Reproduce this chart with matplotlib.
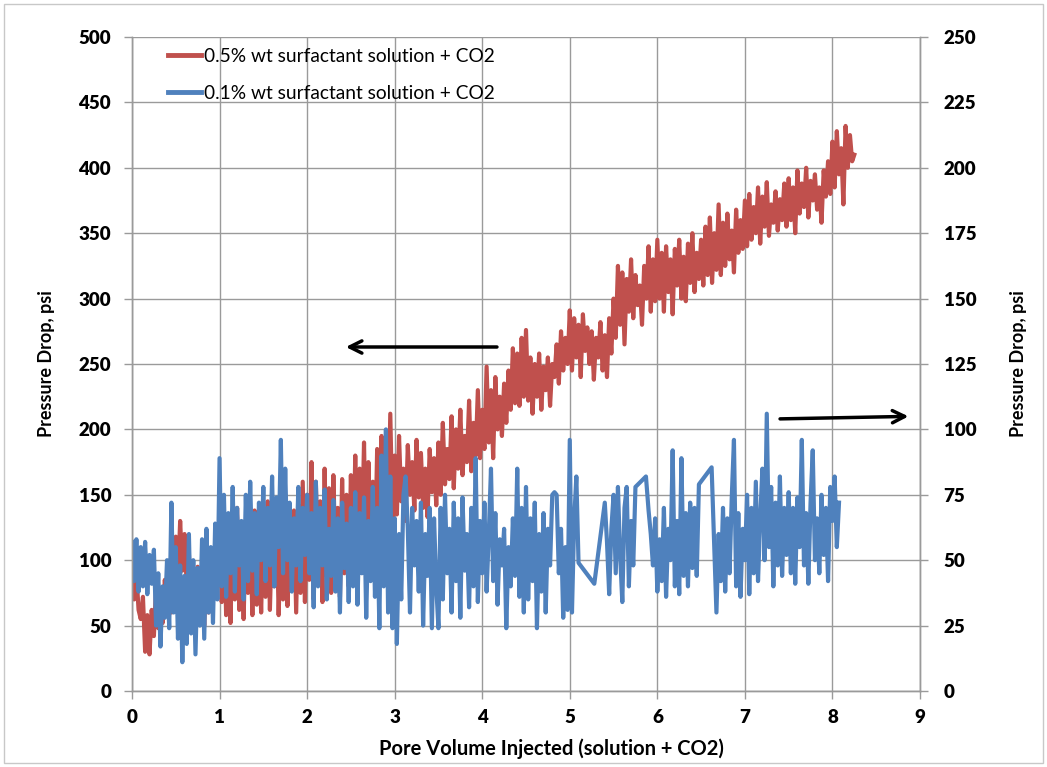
import numpy as np
import matplotlib
matplotlib.use("Agg")
import matplotlib.pyplot as plt
from matplotlib.patches import Rectangle

plt.rcParams['font.family'] = ['Lato', 'DejaVu Sans']

# ---- data -------------------------------------------------------------
x_ticks = [0, 1, 2, 3, 4, 5, 6, 7, 8, 9]
left_ticks = [0, 50, 100, 150, 200, 250, 300, 350, 400, 450, 500]
right_ticks = [0, 25, 50, 75, 100, 125, 150, 175, 200, 225, 250]

label_red = "0.5% wt surfactant solution + CO2"
label_blue = "0.1% wt surfactant solution + CO2"

# 0.5 wt% run: pressure drop (psi, left axis), sampled every 0.025 PV from 0
red_pv_start = 0.0
red_pv_step = 0.025
red_dp = [
    82, 70, 90, 62, 55, 72, 30, 58, 28, 62, 42, 80, 48, 70, 52, 85, 58, 78, 60, 95,
    118, 85, 130, 92, 120, 80, 105, 62, 88, 55, 95, 65, 78, 50, 92, 60, 105, 70, 112, 80,
    120, 68, 135, 58, 110, 52, 125, 70, 140, 62, 118, 55, 130, 75, 122, 58, 138, 66, 115, 60,
    132, 72, 145, 62, 125, 80, 140, 58, 120, 70, 150, 65, 128, 82, 138, 60, 142, 75, 160, 68,
    150, 85, 175, 70, 160, 92, 145, 68, 170, 88, 155, 75, 165, 95, 140, 72, 162, 90, 150, 80,
    165, 95, 180, 85, 170, 110, 190, 92, 175, 120, 160, 100, 185, 115, 195, 105, 178, 125, 212, 130,
    180, 135, 195, 145, 170, 130, 188, 150, 175, 138, 192, 148, 182, 140, 170, 133, 185, 152, 178, 142,
    190, 150, 205, 158, 185, 162, 210, 155, 200, 170, 215, 165, 195, 175, 222, 168, 205, 180, 230, 178,
    215, 185, 248, 190, 230, 178, 240, 200, 225, 195, 235, 205, 245, 215, 262, 220, 258, 218, 270, 225,
    276, 222, 255, 212, 250, 225, 258, 215, 248, 230, 255, 218, 250, 240, 265, 235, 275, 245, 270, 250,
    291, 245, 285, 255, 280, 240, 288, 260, 278, 250, 275, 238, 270, 255, 282, 245, 272, 240, 285, 258,
    300, 270, 325, 280, 320, 265, 315, 290, 330, 285, 318, 295, 310, 280, 325, 300, 340, 290, 330, 298,
    345, 300, 335, 290, 340, 305, 330, 288, 338, 310, 345, 300, 332, 298, 342, 312, 350, 305, 335, 315,
    345, 310, 355, 318, 362, 312, 350, 322, 372, 318, 358, 325, 365, 330, 352, 320, 368, 335, 360, 338,
    375, 340, 380, 345, 370, 350, 385, 342, 378, 355, 389, 348, 372, 358, 382, 352, 376, 360, 388, 355,
    392, 360, 385, 350, 398, 365, 388, 370, 400, 362, 390, 375, 395, 368, 385, 358, 398, 378, 405, 380,
    420, 385, 428, 395, 415, 372, 432, 400, 425, 405, 410,
]

# 0.1 wt% run: pressure drop (psi, right axis), recorded in runs;
# each run starts at the PV in blue_run_starts and is sampled every 0.025 PV
blue_pv_step = 0.025
blue_run_starts = [0.0, 5.28, 5.40, 5.87, 5.90, 6.62, 6.675]
blue_run_1 = [
    57, 42, 58, 38, 55, 40, 57, 37, 52, 41, 54, 25, 45, 17, 40, 28, 50, 24, 72, 30,
    55, 20, 48, 11, 44, 18, 60, 22, 50, 14, 47, 25, 58, 20, 62, 30, 55, 26, 64, 35,
    89, 40, 75, 36, 68, 45, 78, 38, 70, 48, 65, 35, 75, 42, 80, 46, 68, 37, 72, 50,
    78, 42, 70, 48, 82, 40, 74, 55, 96, 45, 85, 50, 72, 38, 66, 48, 78, 42, 70, 52,
    75, 45, 68, 32, 80, 40, 70, 48, 77, 35, 62, 44, 73, 38, 66, 30, 72, 47, 64, 34,
    70, 40, 76, 33, 68, 45, 74, 28, 65, 42, 78, 36, 70, 24, 90, 40, 100, 30, 82, 24,
    66, 18, 60, 35, 75, 82, 62, 30, 70, 48, 65, 38, 72, 25, 60, 44, 70, 24, 66, 40,
    24, 70, 35, 75, 45, 62, 30, 72, 42, 66, 28, 74, 46, 60, 32, 70, 40, 89, 34, 65,
    45, 72, 38, 60, 85, 42, 68, 33, 58, 48, 62, 24, 55, 40, 66, 44, 85, 36, 70, 30,
    78, 35, 66, 42, 72, 24, 60, 38, 68, 30, 62, 48, 75, 76, 75, 45, 62, 28, 55, 31,
    96, 30, 65, 82, 49,
]
blue_run_2 = [41]
blue_run_3 = [72, 57, 37, 62, 75, 45, 78, 52, 34, 70, 78, 40, 65, 48, 78]
blue_run_4 = [82]
blue_run_5 = [69, 60, 48, 66, 38, 58, 42, 70, 36, 62, 50, 92, 40, 65, 37, 89,
              44, 68, 40, 72, 47, 70, 44, 79]
blue_run_6 = [85.5]
blue_run_7 = [
    30, 60, 42, 70, 38, 66, 45, 74, 96, 40, 68, 36, 62,
    50, 75, 37, 70, 45, 80, 42, 66, 85, 50, 106, 55, 78, 40, 72, 48, 82, 44, 70, 52,
    76, 45, 70, 41, 74, 55, 96, 48, 68, 41, 72, 92, 50, 66, 45, 75, 52, 70, 42, 78,
    65, 82, 55, 72,
]
blue_runs = [blue_run_1, blue_run_2, blue_run_3, blue_run_4,
             blue_run_5, blue_run_6, blue_run_7]

# ---- assemble series --------------------------------------------------
red_pv = red_pv_start + red_pv_step * np.arange(len(red_dp))
blue_pv = np.concatenate([s + blue_pv_step * np.arange(len(r))
                          for s, r in zip(blue_run_starts, blue_runs)])
blue_dp = np.concatenate([np.asarray(r, dtype=float) for r in blue_runs])

# ---- figure -----------------------------------------------------------
RED = '#C0504D'
BLUE = '#4F81BD'
GRID = '#9a9a9a'

W, H = 1047, 767
fig = plt.figure(figsize=(W / 100, H / 100), dpi=100)
fig.patches.append(Rectangle((4 / W, 4 / H), 1 - 8 / W, 1 - 8 / H,
                             transform=fig.transFigure, fill=False,
                             edgecolor='#c8c8c8', lw=1.0))

ax = fig.add_axes([132 / W, 1 - 691 / H, (920 - 132) / W, (691 - 37) / H])
ax2 = ax.twinx()

l1, = ax.plot(red_pv, red_dp, color=RED, lw=3.0, solid_joinstyle='round',
              label=label_red)
l2, = ax2.plot(blue_pv, blue_dp, color=BLUE, lw=3.0, solid_joinstyle='round',
               label=label_blue)

ax.set_xlim(0, 9)
ax.set_ylim(0, 500)
ax2.set_ylim(0, 250)
ax.set_xticks(x_ticks)
ax.set_yticks(left_ticks)
ax2.set_yticks(right_ticks)

ax.set_axisbelow(True)
ax.grid(True, color=GRID, lw=1.0)

for a in (ax, ax2):
    a.spines['top'].set_visible(False)
    for side in ('left', 'right', 'bottom'):
        a.spines[side].set_color(GRID)
        a.spines[side].set_linewidth(1.0)
    a.tick_params(axis='both', direction='out', length=6, width=1.0,
                  color=GRID, labelsize=13.5, labelcolor='black')

for lab in ax.get_xticklabels() + ax.get_yticklabels() + ax2.get_yticklabels():
    lab.set_fontweight('heavy')
ax.tick_params(axis='y', pad=9)
ax2.tick_params(axis='y', pad=11)
ax.tick_params(axis='x', pad=7)

ax.set_xlabel("Pore Volume Injected (solution + CO2)", fontsize=14.5,
              fontweight='bold')
ax.xaxis.set_label_coords((551 - 132) / (920 - 132), -0.072)
ax.set_ylabel("Pressure Drop, psi", fontsize=13, fontweight='bold', labelpad=17)
ax2.set_ylabel("Pressure Drop, psi", fontsize=13, fontweight='bold', labelpad=24)

# direction arrows: left curve -> left axis, right curve -> right axis
arrow_kw = dict(arrowstyle='->', lw=2.5, color='black', mutation_scale=22)
ax2.annotate('', xy=(2.41, 131.5), xytext=(4.2, 131.5), arrowprops=arrow_kw,
             annotation_clip=False)
ax2.annotate('', xy=(8.9, 105.0), xytext=(7.37, 104.0), arrowprops=arrow_kw,
             annotation_clip=False)

leg = ax2.legend(handles=[l1, l2], loc='upper left',
                 bbox_to_anchor=(160 / W, 1 - 40 / H),
                 bbox_transform=fig.transFigure, frameon=False,
                 fontsize=13.8, handlelength=1.75, handletextpad=0.15,
                 labelspacing=1.05, borderaxespad=0)
for line in leg.get_lines():
    line.set_linewidth(3.5)

fig.savefig('out.png', dpi=100)
